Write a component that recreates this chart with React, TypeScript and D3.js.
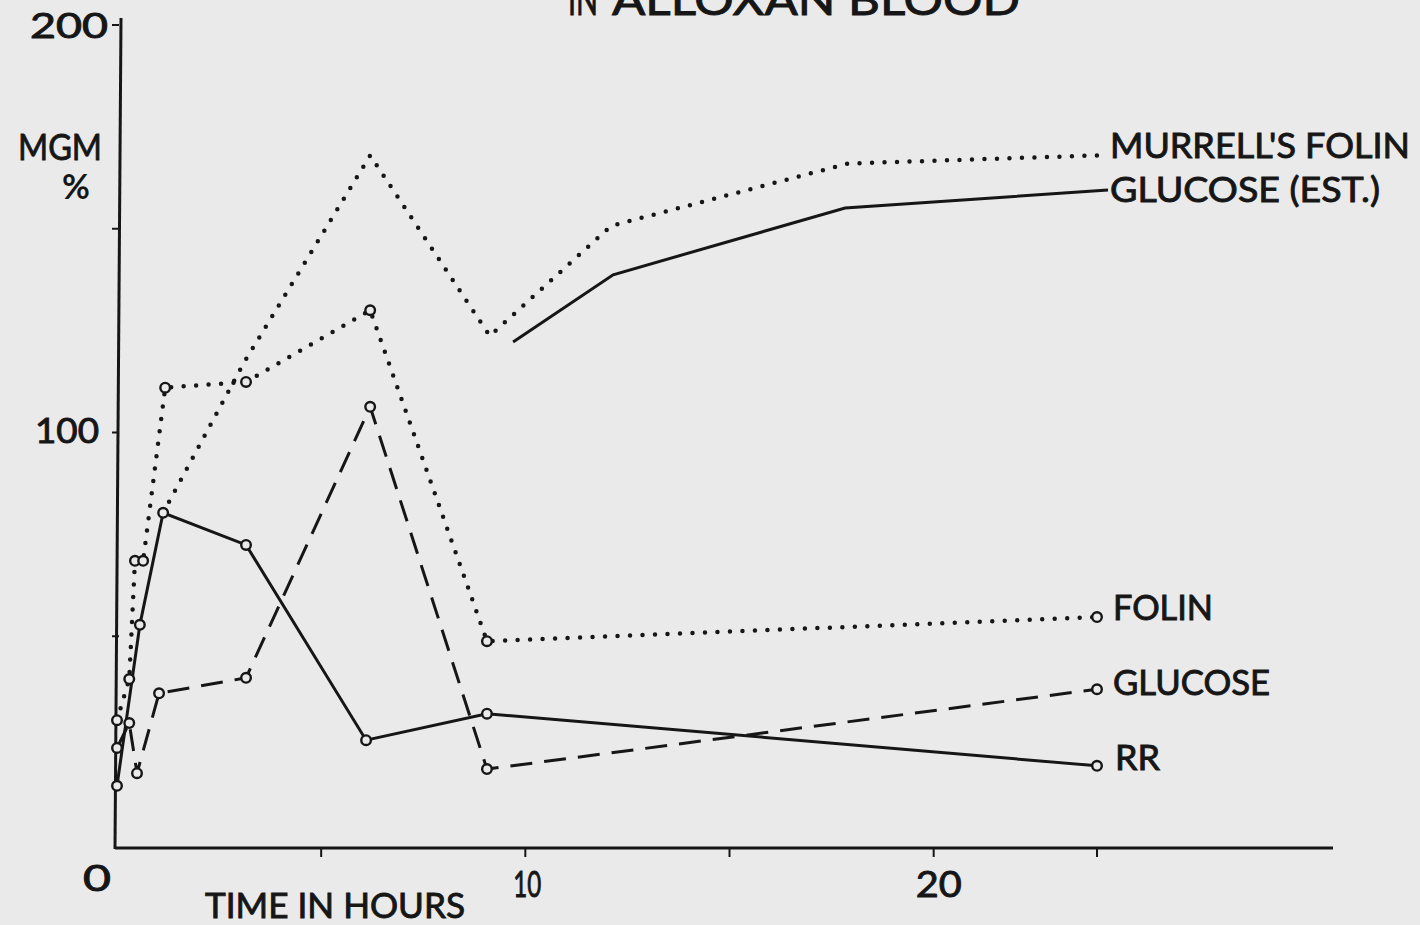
import React from "react";
import * as d3 from "d3";

// Readings taken off the photographed plot (hours, mgm %)
const murrellHours = [1.13, 3.1, 6.2, 9.13, 12.1, 17.9, 24];
const murrellValues = [80.3, 117, 168, 123.7, 150.7, 166, 168];

const glucoseEstHours = [9.7, 12.15, 17.83, 24.27];
const glucoseEstValues = [122.2, 138.7, 155.1, 159.5];

const folinHours = [0, 0.3, 0.44, 0.64, 1.18, 3.16, 6.2, 9.06, 24];
const folinValues = [29.4, 39.5, 68.5, 68.5, 111, 112.4, 130, 48.8, 54.7];

const glucoseHours = [0, 0.3, 0.49, 1.03, 3.16, 6.2, 9.06, 24];
const glucoseValues = [22.6, 28.7, 16.4, 36, 39.8, 106.3, 17.4, 37];

const rrHours = [0, 0.56, 1.13, 3.16, 6.1, 9.06, 24];
const rrValues = [13.3, 52.8, 80.3, 72.4, 24.5, 31, 18.2];

const yTicks = [50, 100, 150, 200];
const yTickLabels = ["100", "200"];
const xTicks = [5, 10, 15, 20, 24];
const xTickLabels = ["0", "10", "20"];

const W = 1420;
const H = 925;
const INK = "#161616";
const PAPER = "#eaeaea";
const FONT = "Lato, 'Noto Sans', sans-serif";

const zip = (hs: number[], vs: number[]) => hs.map((h, i) => [h, vs[i]] as [number, number]);

// heavier lettering like the stencilled original
const inked = { fill: INK, stroke: INK, strokeWidth: 0.9 };

export default function App() {
  const x = d3.scaleLinear().domain([0, 24]).range([117, 1097]);
  const y = d3.scaleLinear().domain([0, 200]).range([840, 25]);
  const axisY = y(0) + 8;

  const line = d3
    .line<[number, number]>()
    .x((d) => x(d[0]))
    .y((d) => y(d[1]));

  const series = [
    { pts: zip(murrellHours, murrellValues), style: "dot", marks: false },
    { pts: zip(glucoseEstHours, glucoseEstValues), style: "solid", marks: false },
    { pts: zip(folinHours, folinValues), style: "dot", marks: true },
    { pts: zip(glucoseHours, glucoseValues), style: "dash", marks: true },
    { pts: zip(rrHours, rrValues), style: "solid", marks: true },
  ];

  const strokeProps = (style: string) => {
    if (style === "dot")
      return { strokeWidth: 4.5, strokeDasharray: "0 12.5", strokeLinecap: "round" as const };
    if (style === "dash") return { strokeWidth: 3, strokeDasharray: "22 12" };
    return { strokeWidth: 3 };
  };

  const labels = [
    { text: "MURRELL'S FOLIN", x: 1110, y: 158, len: 300 },
    { text: "GLUCOSE (EST.)", x: 1110, y: 202, len: 270 },
    { text: "FOLIN", x: 1113, y: 620, len: 100 },
    { text: "GLUCOSE", x: 1113, y: 695, len: 157 },
    { text: "RR", x: 1115, y: 770, len: 45 },
  ];

  return (
    <svg
      width={W}
      height={H}
      style={{ position: "absolute", left: 0, top: 0, background: PAPER }}
      fontFamily={FONT}
    >
      <rect width={W} height={H} fill={PAPER} />

      {/* title, cut by the top edge as in the photograph */}
      <text x={568} y={15} fontSize={42} {...inked} textLength={30} lengthAdjust="spacingAndGlyphs">
        IN
      </text>
      <text x={612} y={15} fontSize={42} {...inked} textLength={408} lengthAdjust="spacingAndGlyphs">
        ALLOXAN BLOOD
      </text>

      {/* axes */}
      <line x1={x(0) + 4} y1={18} x2={x(0) - 2} y2={axisY + 1} stroke={INK} strokeWidth={3} />
      <line x1={x(0) - 2} y1={axisY} x2={1333} y2={axisY} stroke={INK} strokeWidth={3} />
      {yTicks.map((t) => (
        <line key={t} x1={x(0) - 5} x2={x(0) + 2} y1={y(t)} y2={y(t)} stroke={INK} strokeWidth={2} />
      ))}
      {xTicks.map((t) => (
        <line key={t} x1={x(t)} x2={x(t)} y1={axisY} y2={axisY + 9} stroke={INK} strokeWidth={2} />
      ))}

      {/* tick labels */}
      <text x={69} y={y(200) + 13} fontSize={34} {...inked} textAnchor="middle" textLength={78} lengthAdjust="spacingAndGlyphs">
        {yTickLabels[1]}
      </text>
      <text x={67} y={y(100) + 10} fontSize={34} {...inked} textAnchor="middle" textLength={64} lengthAdjust="spacingAndGlyphs">
        {yTickLabels[0]}
      </text>
      <text x={x(0) - 20} y={891} fontSize={36} {...inked} textAnchor="middle" textLength={28} lengthAdjust="spacingAndGlyphs">
        {xTickLabels[0]}
      </text>
      <text x={x(10) + 2} y={897} fontSize={36} {...inked} textAnchor="middle" textLength={28} lengthAdjust="spacingAndGlyphs">
        {xTickLabels[1]}
      </text>
      <text x={x(20) + 5} y={897} fontSize={36} {...inked} textAnchor="middle" textLength={46} lengthAdjust="spacingAndGlyphs">
        {xTickLabels[2]}
      </text>

      {/* axis titles */}
      <text x={18} y={160} fontSize={36} {...inked} textLength={84} lengthAdjust="spacingAndGlyphs">
        MGM
      </text>
      <text x={62} y={199} fontSize={34} fontWeight={700} fill={INK}>
        %
      </text>
      <text x={205} y={918} fontSize={34} {...inked} textLength={260} lengthAdjust="spacingAndGlyphs">
        TIME IN HOURS
      </text>

      {/* series */}
      {series.map((s, i) => (
        <path key={i} d={line(s.pts) || ""} fill="none" stroke={INK} {...strokeProps(s.style)} />
      ))}
      {series.map((s, i) =>
        s.marks
          ? s.pts.map((p, j) => (
              <circle
                key={`${i}-${j}`}
                cx={x(p[0])}
                cy={y(p[1])}
                r={4.8}
                fill={PAPER}
                stroke={INK}
                strokeWidth={2.4}
              />
            ))
          : null
      )}

      {/* series labels */}
      {labels.map((l) => (
        <text
          key={l.text}
          x={l.x}
          y={l.y}
          fontSize={34}
          {...inked}
          textLength={l.len}
          lengthAdjust="spacingAndGlyphs"
        >
          {l.text}
        </text>
      ))}
    </svg>
  );
}
